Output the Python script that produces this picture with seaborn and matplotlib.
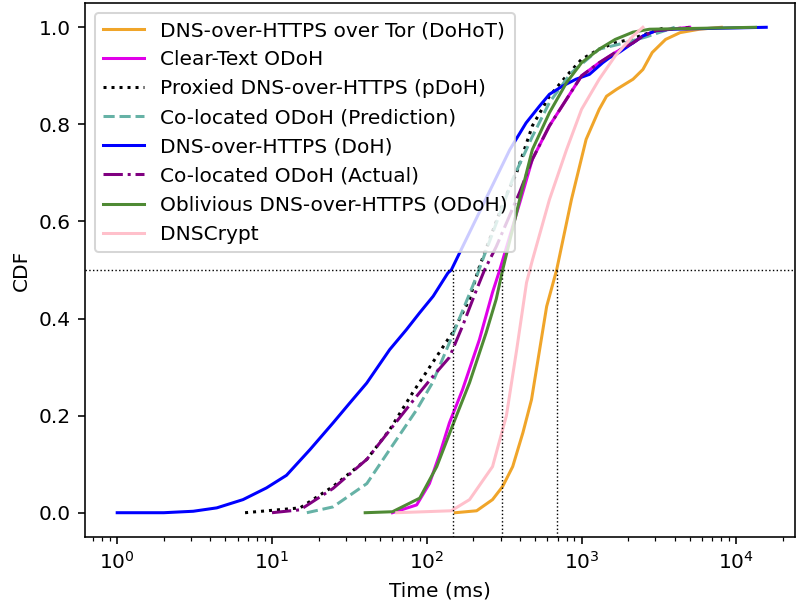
import matplotlib
matplotlib.use("Agg")
import matplotlib.pyplot as plt
import seaborn as sns

# CDF curves (time in ms, cumulative fraction)
dohot_t = [153, 210, 266, 309, 359, 418, 475, 595, 690, 860, 1070, 1300, 1450, 1680, 2150, 2490, 2860, 3490, 4330, 5770, 8000]
dohot_c = [0.0, 0.004, 0.027, 0.054, 0.095, 0.165, 0.233, 0.425, 0.5, 0.645, 0.769, 0.831, 0.858, 0.872, 0.893, 0.913, 0.948, 0.975, 0.989, 0.996, 1.0]

clear_t = [60, 86, 104, 121, 140, 170, 219, 266, 296, 400, 481, 620, 800, 1000, 1300, 1650, 2150, 2490, 3020, 5000]
clear_c = [0.0, 0.016, 0.06, 0.12, 0.185, 0.253, 0.357, 0.454, 0.5, 0.64, 0.728, 0.797, 0.852, 0.9, 0.927, 0.948, 0.968, 0.982, 0.993, 1.0]

pdoh_t = [6.7, 15.2, 24.8, 41, 57.6, 81, 109, 137, 147, 189, 215, 317, 380, 481, 620, 800, 1000, 1300, 1650, 2050, 3500]
pdoh_c = [0.0, 0.01, 0.054, 0.11, 0.171, 0.247, 0.309, 0.357, 0.371, 0.44, 0.5, 0.645, 0.7, 0.797, 0.858, 0.9, 0.934, 0.955, 0.968, 0.975, 1.0]

pred_t = [16.8, 24.8, 41, 57.6, 86, 109, 140, 155, 210, 229, 359, 481, 620, 850, 1300, 1900, 2600, 4000]
pred_c = [0.0, 0.012, 0.06, 0.13, 0.212, 0.268, 0.35, 0.384, 0.487, 0.52, 0.687, 0.775, 0.845, 0.905, 0.955, 0.968, 0.98, 1.0]

doh_t = [1.0, 2.0, 3.1, 4.4, 6.5, 9.2, 12.4, 17.6, 24.8, 31.8, 40.9, 57.6, 73.8, 90, 110, 137, 144,
         344, 438, 536, 620, 755, 920, 1124, 1370, 1510, 1745, 2150, 2490, 3020, 3860, 15600]
doh_c = [0.0, 0.0, 0.003, 0.01, 0.027, 0.051, 0.077, 0.13, 0.185, 0.226, 0.267, 0.336, 0.377, 0.412, 0.446, 0.494, 0.5,
         0.748, 0.803, 0.838, 0.862, 0.879, 0.893, 0.903, 0.927, 0.937, 0.948, 0.968, 0.982, 0.993, 0.996, 1.0]

actual_t = [10, 15.2, 24.8, 41, 60, 86, 109, 140, 170, 210, 236, 281, 398, 481, 620, 800, 1000, 1300, 1650, 2150, 2490, 3020, 5000]
actual_c = [0.0, 0.006, 0.05, 0.11, 0.177, 0.24, 0.28, 0.32, 0.384, 0.46, 0.5, 0.548, 0.66, 0.728, 0.797, 0.852, 0.9, 0.927, 0.948, 0.968, 0.982, 0.993, 1.0]

odoh_t = [40, 60, 90, 116, 147, 189, 242, 281, 309, 354, 398, 481, 620, 800, 1000, 1300, 1650, 2150, 2750, 13300]
odoh_c = [0.0, 0.002, 0.03, 0.095, 0.18, 0.268, 0.371, 0.44, 0.5, 0.577, 0.645, 0.748, 0.824, 0.886, 0.927, 0.955, 0.975, 0.99, 0.996, 1.0]

crypt_t = [64, 144, 189, 266, 327, 381, 441, 481, 620, 800, 1000, 1300, 1650, 2150, 2490]
crypt_c = [0.0, 0.004, 0.027, 0.095, 0.2, 0.336, 0.474, 0.52, 0.645, 0.748, 0.831, 0.893, 0.941, 0.982, 1.0]

medians = [147, 305, 690]

series = [
    ("DNS-over-HTTPS over Tor (DoHoT)", dohot_t, dohot_c, "#f0a52a", "-"),
    ("Clear-Text ODoH", clear_t, clear_c, "#e000e8", "-"),
    ("Proxied DNS-over-HTTPS (pDoH)", pdoh_t, pdoh_c, "black", ":"),
    ("Co-located ODoH (Prediction)", pred_t, pred_c, "#66b2a6", "--"),
    ("DNS-over-HTTPS (DoH)", doh_t, doh_c, "blue", "-"),
    ("Co-located ODoH (Actual)", actual_t, actual_c, "purple", "-."),
    ("Oblivious DNS-over-HTTPS (ODoH)", odoh_t, odoh_c, "#4f8a34", "-"),
    ("DNSCrypt", crypt_t, crypt_c, "pink", "-"),
]

fig, ax = plt.subplots(figsize=(796 / 145, 602 / 145), dpi=145)
fig.subplots_adjust(left=0.107, right=0.999, top=0.995, bottom=0.108)

for name, t, c, col, ls in series:
    sns.lineplot(x=t, y=c, ax=ax, color=col, linestyle=ls, linewidth=1.5,
                 label=name, sort=False, estimator=None)

# median markers
ax.axhline(0.5, color="black", linestyle=":", linewidth=0.7)
for m in medians:
    ax.axvline(m, ymax=0.5, color="black", linestyle=":", linewidth=0.7)

ax.set_xscale("log")
ax.set_xlim(0.621, 24000)
ax.set_ylim(-0.05, 1.05)
ax.set_xlabel("Time (ms)")
ax.set_ylabel("CDF")
ax.legend(loc="upper left")

fig.savefig("out.png", dpi=145)
